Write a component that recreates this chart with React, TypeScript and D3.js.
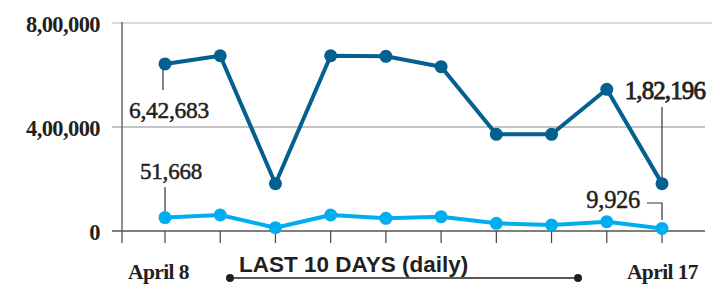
import React from 'react';
import * as d3 from 'd3';

// Daily figures, April 8 to April 17
const days = ['April 8', 'April 9', 'April 10', 'April 11', 'April 12', 'April 13', 'April 14', 'April 15', 'April 16', 'April 17'];
const darkSeries = [642683, 674000, 182000, 674000, 672000, 632000, 372000, 372000, 545000, 182196];
const lightSeries = [51668, 61500, 12700, 61500, 48800, 55000, 29600, 23000, 35800, 9926];
const yTicks = [0, 400000, 800000];
const yTickLabels = ['0', '4,00,000', '8,00,000'];

const DARK = '#04608f';
const LIGHT = '#00aeef';
const INK = '#231f20';
const SERIF = '"Liberation Serif", "DejaVu Serif", serif';

const App: React.FC = () => {
  const width = 712;
  const height = 289;

  const x = d3.scalePoint<string>().domain(days).range([165, 662]);
  const y = d3.scaleLinear().domain([0, 800000]).range([231, 23]);

  const line = d3.line<number>()
    .x((_, i) => x(days[i])!)
    .y(d => y(d));

  const first = days[0];
  const last = days[days.length - 1];

  // value label with a slight stroke to get the semi-bold look
  const valueLabel = (txt: string, px: number, py: number, size: number, anchor: string, ls: number, sw: number) => (
    <text x={px} y={py} textAnchor={anchor} fontFamily={SERIF} fontSize={size} fill={INK}
      stroke={INK} strokeWidth={sw} letterSpacing={ls}>{txt}</text>
  );

  return (
    <svg width={width} height={height} style={{ position: 'absolute', left: 0, top: 0, background: '#fff' }}>
      {/* grid */}
      {yTicks.map((t, i) => (
        <line key={t} x1={112} x2={i === 2 ? 712 : 705} y1={y(t)} y2={y(t)}
          stroke={i === 0 ? '#555' : i === 2 ? '#b5b5b5' : '#8a8a8a'} strokeWidth={i === 0 ? 1.5 : 1.2} />
      ))}
      {yTicks.map((t, i) => (
        <text key={'l' + t} x={100} y={y(t) + 9} textAnchor="end"
          fontFamily={SERIF} fontWeight="bold" fontSize={22.5} fill={INK} letterSpacing={-0.6}>
          {yTickLabels[i]}
        </text>
      ))}
      <line x1={122} x2={122} y1={22} y2={243} stroke="#555" strokeWidth={1.3} />
      {days.map(d => (
        <line key={d} x1={x(d)} x2={x(d)} y1={y(0)} y2={243} stroke="#444" strokeWidth={1.2} />
      ))}

      {/* leader lines */}
      <line x1={x(first)! - 2} x2={x(first)! - 2} y1={67} y2={90} stroke="#333" strokeWidth={1.2} />
      <line x1={x(first)} x2={x(first)} y1={187} y2={212} stroke="#333" strokeWidth={1.2} />
      <line x1={x(last)} x2={x(last)} y1={107} y2={178} stroke="#333" strokeWidth={1.2} />
      <polyline points={`647,203 ${x(last)},203 ${x(last)},220`} fill="none" stroke="#333" strokeWidth={1.2} />

      {/* series */}
      <path d={line(lightSeries) || ''} fill="none" stroke={LIGHT} strokeWidth={4} strokeLinejoin="round" />
      {lightSeries.map((v, i) => (
        <circle key={'c' + i} cx={x(days[i])} cy={y(v)} r={6.5} fill={LIGHT} />
      ))}
      <path d={line(darkSeries) || ''} fill="none" stroke={DARK} strokeWidth={4} strokeLinejoin="round" />
      {darkSeries.map((v, i) => (
        <circle key={'d' + i} cx={x(days[i])} cy={y(v)} r={6.5} fill={DARK} />
      ))}

      {/* value labels */}
      {valueLabel('6,42,683', 129, 118, 23.5, 'start', -0.3, 0.5)}
      {valueLabel('51,668', 140, 179, 23, 'start', -0.2, 0.5)}
      {valueLabel('1,82,196', 705, 99, 25, 'end', -0.9, 0.8)}
      {valueLabel('9,926', 640, 208, 24.5, 'end', -0.3, 0.5)}

      {/* x labels */}
      <text x={128} y={279} fontFamily={SERIF} fontWeight="bold" fontSize={21.5} fill={INK} letterSpacing={-0.6}>{first}</text>
      <text x={698} y={279} textAnchor="end" fontFamily={SERIF} fontWeight="bold" fontSize={21.5} fill={INK} letterSpacing={-0.6}>{last}</text>

      {/* period marker */}
      <text x={239} y={272} fontFamily='"Liberation Sans", Arial, sans-serif' fontWeight="bold" fontSize={22.5} fill={INK}>
        LAST 10 DAYS (daily)
      </text>
      <line x1={230} x2={578} y1={278} y2={278} stroke={INK} strokeWidth={1.5} />
      <circle cx={230} cy={278} r={4} fill={INK} />
      <circle cx={578} cy={278} r={4} fill={INK} />
    </svg>
  );
};

export default App;
